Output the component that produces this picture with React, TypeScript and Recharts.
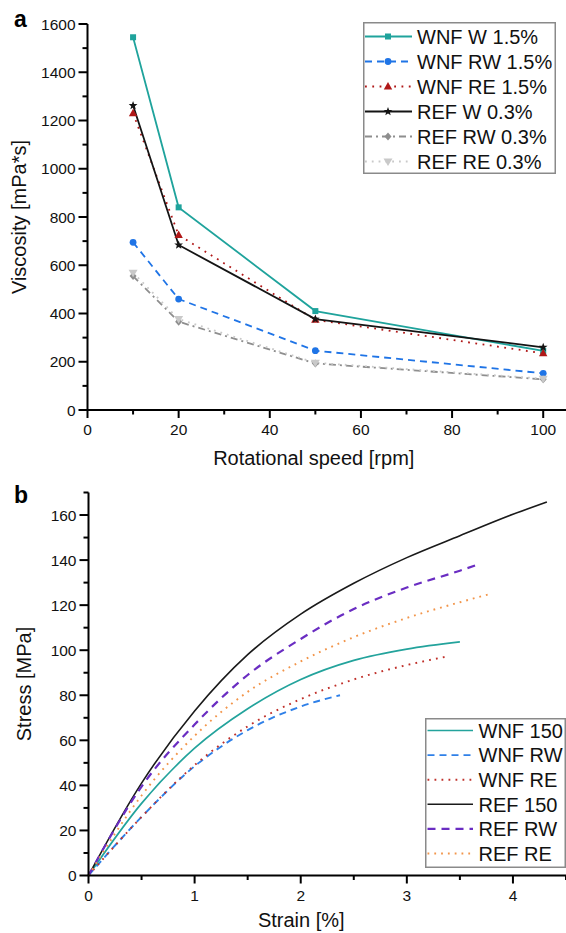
import React from "react";
import { LineChart, Line, XAxis, YAxis, Label } from "recharts";

const FONT = '"Liberation Sans", Arial, Helvetica, sans-serif';

// panel a: viscosity vs rotational speed
const speeds = [10, 20, 50, 100];
const wnfW = [1545, 840, 410, 245];
const wnfRW = [695, 460, 246, 152];
const wnfRE = [1230, 725, 374, 235];
const refW = [1262, 684, 377, 260];
const refRW = [555, 366, 193, 127];
const refRE = [569, 377, 196, 130];

const speedTicks = [0, 10, 20, 30, 40, 50, 60, 70, 80, 90, 100];
const viscTicks = [0, 100, 200, 300, 400, 500, 600, 700, 800, 900, 1000, 1100, 1200, 1300, 1400, 1500, 1600];

// panel b: stress-strain curves (read every 0.5 % strain, plus end point)
const wnf150Strain = [0, 0.5, 1, 1.5, 2, 2.5, 3, 3.5];
const wnf150Stress = [0, 32, 56.5, 74, 87, 95.5, 100.5, 103.7];
const wnfRWStrain = [0, 0.5, 1, 1.5, 2, 2.37];
const wnfRWStress = [0, 26, 48.5, 64.5, 75, 80];
const wnfREStrain = [0, 0.5, 1, 1.5, 2, 2.5, 3, 3.38];
const wnfREStress = [0, 26, 49, 66.2, 78.3, 87, 93.4, 97.2];
const ref150Strain = [0, 0.5, 1, 1.5, 2, 2.5, 3, 3.5, 4, 4.32];
const ref150Stress = [0, 41, 73, 98, 116, 129.7, 141.1, 150.8, 160.3, 165.8];
const refRWStrain = [0, 0.5, 1, 1.5, 2, 2.5, 3, 3.5, 3.67];
const refRWStress = [0, 39.5, 67, 89, 105, 118.3, 127.8, 135.3, 138];
const refREStrain = [0, 0.5, 1, 1.5, 2, 2.5, 3, 3.5, 3.79];
const refREStress = [0, 35.5, 62, 81.5, 95, 105.8, 114.3, 121.3, 125];

const strainTicks = [0, 0.5, 1, 1.5, 2, 2.5, 3, 3.5, 4, 4.5];
const stressTicks = [0, 10, 20, 30, 40, 50, 60, 70, 80, 90, 100, 110, 120, 130, 140, 150, 160, 170];

const viscData = speeds.map((s, i) => ({
  speed: s,
  wnfW: wnfW[i],
  wnfRW: wnfRW[i],
  wnfRE: wnfRE[i],
  refW: refW[i],
  refRW: refRW[i],
  refRE: refRE[i],
}));

const zip = (xs: number[], ys: number[]) => xs.map((x, i) => ({ strain: x, stress: ys[i] }));

const viscSeries = [
  { key: "wnfW", name: "WNF W 1.5%", color: "#1fa39c", dash: undefined, shape: "square" },
  { key: "wnfRW", name: "WNF RW 1.5%", color: "#1f74e6", dash: "7 5", shape: "circle" },
  { key: "wnfRE", name: "WNF RE 1.5%", color: "#b01818", dash: "1.8 5.5", shape: "triangle" },
  { key: "refW", name: "REF W 0.3%", color: "#141414", dash: undefined, shape: "star" },
  { key: "refRW", name: "REF RW 0.3%", color: "#8e8e8e", dash: "7 4 2 4", shape: "diamond" },
  { key: "refRE", name: "REF RE 0.3%", color: "#c9c9c9", dash: "1.8 5", shape: "triangleDown" },
];

const stressSeries = [
  { name: "WNF 150", data: zip(wnf150Strain, wnf150Stress), color: "#23a39c", dash: undefined, width: 1.7 },
  { name: "WNF RW", data: zip(wnfRWStrain, wnfRWStress), color: "#2f80e8", dash: "7 5", width: 1.9 },
  { name: "WNF RE", data: zip(wnfREStrain, wnfREStress), color: "#c0302a", dash: "1.8 5.2", width: 1.9 },
  { name: "REF 150", data: zip(ref150Strain, ref150Stress), color: "#1a1a1a", dash: undefined, width: 1.6 },
  { name: "REF RW", data: zip(refRWStrain, refRWStress), color: "#6a2dc2", dash: "8 6", width: 2.2 },
  { name: "REF RE", data: zip(refREStrain, refREStress), color: "#f2954a", dash: "1.8 5", width: 1.9 },
];

function starPath(cx: number, cy: number, ro: number, ri: number) {
  let d = "";
  for (let i = 0; i < 10; i++) {
    const r = i % 2 === 0 ? ro : ri;
    const a = -Math.PI / 2 + (i * Math.PI) / 5;
    d += (i === 0 ? "M" : "L") + (cx + r * Math.cos(a)).toFixed(2) + "," + (cy + r * Math.sin(a)).toFixed(2);
  }
  return d + "Z";
}

function Marker({ shape, cx, cy, color }: { shape: string; cx: number; cy: number; color: string }) {
  switch (shape) {
    case "square":
      return <rect x={cx - 3} y={cy - 3} width={6} height={6} fill={color} />;
    case "circle":
      return <circle cx={cx} cy={cy} r={3.4} fill={color} />;
    case "triangle":
      return <path d={`M${cx},${cy - 4.5}L${cx + 4.2},${cy + 3}L${cx - 4.2},${cy + 3}Z`} fill={color} />;
    case "triangleDown":
      return <path d={`M${cx},${cy + 4.5}L${cx + 4.5},${cy - 3}L${cx - 4.5},${cy - 3}Z`} fill={color} />;
    case "diamond":
      return <path d={`M${cx},${cy - 4}L${cx + 3.5},${cy}L${cx},${cy + 4}L${cx - 3.5},${cy}Z`} fill={color} />;
    default:
      return <path d={starPath(cx, cy, 4.6, 1.9)} fill={color} />;
  }
}

// axis tick with major/minor length, drawn from the axis line outward
const yTick = (isMajor: (v: number) => boolean) => (p: any) => {
  const v = p.payload.value;
  const major = isMajor(v);
  return (
    <g>
      <line x1={p.x} x2={p.x - (major ? 9 : 5)} y1={p.y} y2={p.y} stroke="#000" strokeWidth={2} />
      {major && (
        <text x={p.x - 12} y={p.y} dy="0.36em" textAnchor="end" fontSize={15.5} fontFamily={FONT} fill="#111">
          {v}
        </text>
      )}
    </g>
  );
};

const xTick = (isMajor: (v: number) => boolean) => (p: any) => {
  const v = p.payload.value;
  const major = isMajor(v);
  return (
    <g>
      <line x1={p.x} x2={p.x} y1={p.y} y2={p.y + (major ? 8 : 4.5)} stroke="#000" strokeWidth={2} />
      {major && (
        <text x={p.x} y={p.y + 25} textAnchor="middle" fontSize={15.5} fontFamily={FONT} fill="#111">
          {v}
        </text>
      )}
    </g>
  );
};

const yTitle = (text: string, dx: number) => (props: any) => {
  const vb = props.viewBox;
  const cx = vb.x + dx;
  const cy = vb.y + vb.height / 2;
  return (
    <text x={cx} y={cy} transform={`rotate(-90 ${cx} ${cy})`} textAnchor="middle" fontSize={20} fontFamily={FONT} fill="#111">
      {text}
    </text>
  );
};

const xTitle = (text: string, dx: number, dy: number) => (props: any) => {
  const vb = props.viewBox;
  return (
    <text x={vb.x + vb.width / 2 + dx} y={vb.y + dy} textAnchor="middle" fontSize={20} fontFamily={FONT} fill="#111">
      {text}
    </text>
  );
};

function ViscLegend() {
  const w = 193;
  const h = 152;
  return (
    <svg width={w} height={h} style={{ display: "block" }}>
      <rect x={0.75} y={0.75} width={w - 1.5} height={h - 1.5} fill="#fff" stroke="#8a8a8a" strokeWidth={1.5} />
      {viscSeries.map((s, i) => {
        const y = 14.5 + i * 25;
        return (
          <g key={s.key}>
            <line x1={2} x2={49} y1={y} y2={y} stroke={s.color} strokeWidth={2} strokeDasharray={s.dash} />
            <Marker shape={s.shape} cx={25} cy={y} color={s.color} />
            <text x={54} y={y} dy="0.36em" fontSize={20} fontFamily={FONT} fill="#111">
              {s.name}
            </text>
          </g>
        );
      })}
    </svg>
  );
}

function StressLegend() {
  const w = 141;
  const h = 150;
  return (
    <svg width={w} height={h} style={{ display: "block" }}>
      <rect x={0.75} y={0.75} width={w - 1.5} height={h - 1.5} fill="#fff" stroke="#8a8a8a" strokeWidth={1.5} />
      {stressSeries.map((s, i) => {
        const y = 12.5 + i * 24.6;
        return (
          <g key={s.name}>
            <line x1={2.5} x2={48} y1={y} y2={y} stroke={s.color} strokeWidth={s.width} strokeDasharray={s.dash} />
            <text x={53.5} y={y} dy="0.36em" fontSize={20} fontFamily={FONT} fill="#111">
              {s.name}
            </text>
          </g>
        );
      })}
    </svg>
  );
}

export default function App() {
  return (
    <div style={{ position: "absolute", left: 0, top: 0, width: 566, height: 933, background: "#fff", fontFamily: FONT }}>
      <div style={{ position: "absolute", left: 14, top: 5, fontSize: 23, fontWeight: "bold", lineHeight: "28px" }}>a</div>
      <div style={{ position: "absolute", left: 14, top: 481, fontSize: 23, fontWeight: "bold", lineHeight: "28px" }}>b</div>

      <div style={{ position: "absolute", left: 0, top: 0 }}>
        <LineChart width={566} height={470} data={viscData} margin={{ top: 24, right: 0, left: 0, bottom: 0 }}>
          <XAxis
            dataKey="speed"
            type="number"
            domain={[0, 105]}
            ticks={speedTicks}
            height={60}
            tickSize={0}
            tickMargin={0}
            tickLine={false}
            axisLine={{ stroke: "#000", strokeWidth: 2 }}
            tick={xTick((v) => v % 20 === 0)}
            interval={0}
          >
            <Label content={xTitle("Rotational speed [rpm]", -13, 55)} />
          </XAxis>
          <YAxis
            type="number"
            domain={[0, 1600]}
            ticks={viscTicks}
            width={87.5}
            tickSize={0}
            tickMargin={0}
            tickLine={false}
            axisLine={{ stroke: "#000", strokeWidth: 2 }}
            tick={yTick((v) => v % 200 === 0)}
            interval={0}
          >
            <Label content={yTitle("Viscosity [mPa*s]", 26)} />
          </YAxis>
          {viscSeries.map((s) => (
            <Line
              key={s.key}
              type="linear"
              dataKey={s.key}
              name={s.name}
              stroke={s.color}
              strokeWidth={1.8}
              strokeDasharray={s.dash}
              isAnimationActive={false}
              dot={(p: any) => <Marker key={p.index} shape={s.shape} cx={p.cx} cy={p.cy} color={s.color} />}
              activeDot={false}
            />
          ))}
        </LineChart>
      </div>
      <div style={{ position: "absolute", left: 363, top: 22 }}>
        <ViscLegend />
      </div>

      <div style={{ position: "absolute", left: 0, top: 470 }}>
        <LineChart width={566} height={463} margin={{ top: 22.5, right: 0, left: 0, bottom: 0 }}>
          <XAxis
            dataKey="strain"
            type="number"
            domain={[0, 4.5]}
            ticks={strainTicks}
            height={57.5}
            tickSize={0}
            tickMargin={0}
            tickLine={false}
            axisLine={{ stroke: "#000", strokeWidth: 2 }}
            tick={xTick((v) => Number.isInteger(v))}
            interval={0}
            allowDuplicatedCategory={false}
          >
            <Label content={xTitle("Strain [%]", -26, 51)} />
          </XAxis>
          <YAxis
            type="number"
            domain={[0, 170]}
            ticks={stressTicks}
            width={88.5}
            tickSize={0}
            tickMargin={0}
            tickLine={false}
            axisLine={{ stroke: "#000", strokeWidth: 2 }}
            tick={yTick((v) => v % 20 === 0 && v <= 160)}
            interval={0}
          >
            <Label content={yTitle("Stress [MPa]", 31)} />
          </YAxis>
          {stressSeries.map((s) => (
            <Line
              key={s.name}
              data={s.data}
              type="monotone"
              dataKey="stress"
              name={s.name}
              stroke={s.color}
              strokeWidth={s.width}
              strokeDasharray={s.dash}
              isAnimationActive={false}
              dot={false}
              activeDot={false}
            />
          ))}
        </LineChart>
      </div>
      <div style={{ position: "absolute", left: 425, top: 717.5 }}>
        <StressLegend />
      </div>
    </div>
  );
}
